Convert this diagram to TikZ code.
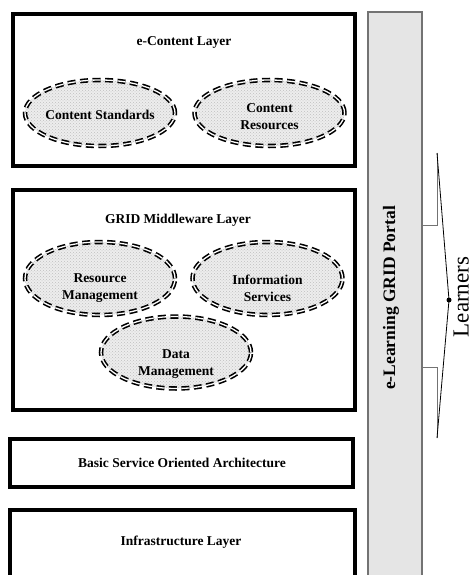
\documentclass[tikz,border=0pt]{standalone}
\usepackage{fontspec}
\setmainfont{Liberation Serif}
\usetikzlibrary{shapes.geometric,patterns}
\begin{document}
\begin{tikzpicture}[x=1pt,y=-1pt,
  layerbox/.style={draw=black, line width=4pt, inner sep=0pt},
  comp/.style={ellipse, draw=black, line width=1.6pt, double=white, double distance=1.3pt,
    dash pattern=on 8pt off 4.5pt, preaction={fill=gray!14}, pattern=crosshatch dots,
    pattern color=gray!50, minimum width=150pt, inner sep=0pt},
  lbl/.style={font=\bfseries\fontsize{13.5}{17}\selectfont, align=center, inner sep=0pt},
  portalbox/.style={draw=black!55, line width=1.2pt, fill=black!10, inner sep=0pt},
  notch/.style={draw=black!55, line width=1pt},
  arrowline/.style={draw=black, line width=0.8pt}]
\path[use as bounding box, clip] (0,0) rectangle (474,575);

% layers
\node[layerbox, minimum width=341.5pt, minimum height=152pt] (econtent) at (183.75,90) {};
\node[lbl] (econtentT) at (184,42) {e-Content Layer};
\node[comp, minimum height=66pt] (cs) at (100,113) {};
\node[comp, minimum height=66pt] (cr) at (269.5,113) {};
\node[lbl] (csT) at (100,115) {Content Standards};
\node[lbl] (crT) at (269.5,117) {Content\\Resources};

\node[layerbox, minimum width=342pt, minimum height=219.5pt] (mid) at (184,299.75) {};
\node[lbl] (midT) at (178,220) {GRID Middleware Layer};
\node[comp, minimum height=73pt] (rm) at (100,278.5) {};
\node[comp, minimum height=73pt] (is) at (267.5,278.5) {};
\node[comp, minimum height=72pt] (dm) at (176,352.5) {};
\node[lbl] (rmT) at (100,288) {Resource\\Management};
\node[lbl] (isT) at (267.5,288) {Information\\Services};
\node[lbl] (dmT) at (176,364.5) {Data\\Management};

\node[layerbox, minimum width=343.5pt, minimum height=48pt] (soa) at (181.25,463) {};
\node[lbl] (soaT) at (182,463) {Basic Service Oriented Architecture};

\node[layerbox, minimum width=345.5pt, minimum height=90pt] (infra) at (182.25,555) {};
\node[lbl] (infraT) at (181,542) {Infrastructure Layer};

% portal
\node[portalbox, minimum width=54pt, minimum height=588pt] (portal) at (395,306) {};
\node[font=\bfseries\fontsize{17.5}{20}\selectfont, rotate=90, inner sep=0pt] (portalT) at (391,298) {e-Learning GRID Portal};

% learners arrow
\coordinate (tT) at (437,153);
\coordinate (tip) at (449,300);
\coordinate (tB) at (437,438);
\coordinate (nTc) at (437,225);
\coordinate (nBc) at (437,367);
\draw[notch] (tT) -- (nTc) -- (portal.east |- nTc);
\draw[notch] (portal.east |- nBc) -- (nBc) -- (tB);
\draw[arrowline] (tT) -- (tip) -- (tB);
\fill (tip) circle (2.5);
\node[font=\fontsize{23}{26}\selectfont, rotate=90, inner sep=0pt, anchor=base] (learners) at (468.5,297) {Learners};
\end{tikzpicture}
\end{document}
